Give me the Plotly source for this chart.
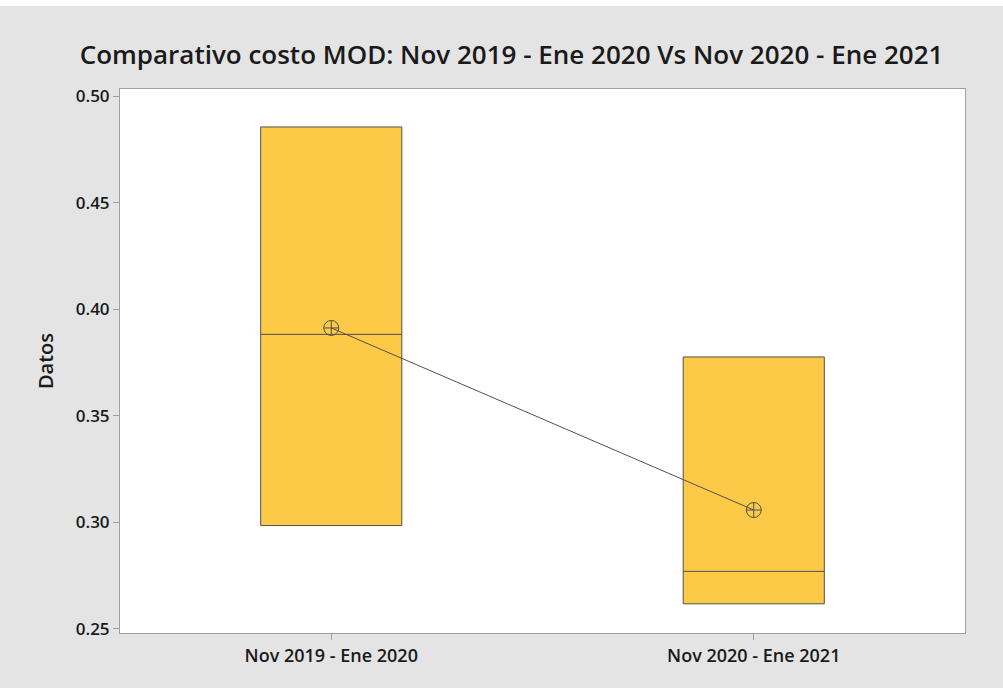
import plotly.graph_objects as go

categories = ["Nov 2019 - Ene 2020", "Nov 2020 - Ene 2021"]
q1 = [0.2985, 0.2618]
median = [0.3882, 0.2770]
q3 = [0.4855, 0.3776]
means = [0.3912, 0.3058]
y_ticks = [0.25, 0.30, 0.35, 0.40, 0.45, 0.50]

FONT = "Open Sans"
TXT = "#1a1a1a"

fig = go.Figure()
fig.add_trace(go.Box(
    x=categories, q1=q1, median=median, q3=q3,
    lowerfence=q1, upperfence=q3,
    fillcolor="#fcca46", line=dict(color="#505050", width=1),
    whiskerwidth=0, width=0.334, boxpoints=False, showlegend=False,
    hoverinfo="skip"))
fig.add_trace(go.Scatter(
    x=categories, y=means, mode="lines+markers",
    line=dict(color="#505050", width=1),
    marker=dict(symbol="circle-cross-open", size=15, color="#505050",
                line=dict(width=1)),
    showlegend=False))

fig.update_layout(
    width=1003, height=688,
    margin=dict(l=120, r=38, t=89, b=55),
    paper_bgcolor="#ffffff", plot_bgcolor="#ffffff",
    font=dict(family=FONT, color=TXT),
    title=dict(text="Comparativo costo MOD: Nov 2019 - Ene 2020 Vs Nov 2020 - Ene 2021",
               x=0.51, xanchor="center", y=0.92, yanchor="middle",
               font=dict(size=26, family=FONT, color=TXT, weight=600)),
    shapes=[
        dict(type="rect", xref="paper", yref="paper",
             x0=-120/845, x1=1 + 38/845, y0=-55/544, y1=1 + 83/544,
             fillcolor="#e4e4e4", line=dict(width=0), layer="below"),
        dict(type="rect", xref="paper", yref="paper",
             x0=0, x1=1, y0=0, y1=1,
             fillcolor="#ffffff", line=dict(width=0), layer="below"),
    ],
)
fig.update_xaxes(
    type="category", range=[-0.5, 1.5],
    showline=True, linecolor="#a0a0a0", linewidth=1, mirror=True,
    ticks="outside", ticklen=6, tickcolor="#a0a0a0",
    tickfont=dict(size=18, family=FONT, color=TXT, weight=600),
    showgrid=False)
fig.update_yaxes(
    range=[0.2481, 0.5033], tickvals=y_ticks,
    ticktext=[f"{v:.2f}" for v in y_ticks],
    showline=True, linecolor="#a0a0a0", linewidth=1, mirror=True,
    ticks="outside", ticklen=6, tickcolor="#a0a0a0",
    tickfont=dict(size=17, family=FONT, color=TXT, weight=600),
    title=dict(text="Datos", font=dict(size=20, family=FONT, color=TXT, weight=600),
               standoff=16),
    showgrid=False, zeroline=False)

fig.write_html("out.html")
